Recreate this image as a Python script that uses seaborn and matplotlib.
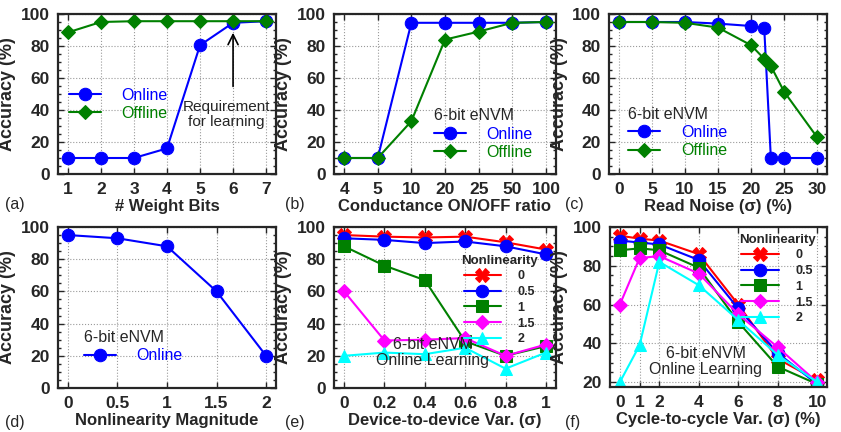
import numpy as np
import pandas as pd
import seaborn as sns
import matplotlib.pyplot as plt
from matplotlib.ticker import MultipleLocator

# (a) weight bits
bits = [1, 2, 3, 4, 5, 6, 7]
bits_online = [10, 10, 10, 16, 80.5, 94.5, 95.5]
bits_offline = [88.5, 95, 95.5, 95.5, 95.5, 95.5, 95.5]

# (b) ON/OFF ratio (categorical axis)
onoff_labels = ['4', '5', '10', '20', '25', '50', '100']
onoff_online = [10, 10, 94.5, 94.5, 94.5, 94.5, 95]
onoff_offline = [10, 10, 33, 84, 89, 94.5, 95]

# (c) read noise
noise = [0, 5, 10, 15, 20, 22, 23, 25, 30]
noise_online = [95, 95, 95, 94, 92.5, 91, 10, 10, 10]
noise_offline = [95, 95, 94.5, 91.5, 80.5, 72, 67.5, 51.5, 23]

# (d) nonlinearity
nl = [0, 0.5, 1, 1.5, 2]
nl_labels = ['0', '0.5', '1', '1.5', '2']
nl_online = [95, 93, 88, 60, 20]

# (e) device-to-device variation
d2d = [0, 0.2, 0.4, 0.6, 0.8, 1]
d2d_labels = ['0', '0.2', '0.4', '0.6', '0.8', '1']
d2d_acc = {
    '0':   [95, 94, 93.5, 94, 90.5, 86],
    '0.5': [93, 92, 90, 91, 88, 83],
    '1':   [88, 76, 67, 29, 20, 26],
    '1.5': [60, 29.5, 30, 31, 20, 27],
    '2':   [20, 22, 21, 25, 12, 22],
}

# (f) cycle-to-cycle variation
c2c = [0, 1, 2, 4, 6, 8, 10]
c2c_acc = {
    '0':   [95.5, 94, 93, 86, 60, 32, 21],
    '0.5': [93, 92, 91, 83, 58, 35, 19],
    '1':   [88, 89, 88, 79, 51, 28, 19],
    '1.5': [60, 84, 85, 76, 55, 38, 20],
    '2':   [20, 39, 82, 70, 52, 34, 20],
}

nl_levels = ['0', '0.5', '1', '1.5', '2']
nl_colors = {'0': '#ff0000', '0.5': '#0000ff', '1': '#008000', '1.5': '#ff00ff', '2': '#00ffff'}
nl_markers = {'0': 'X', '0.5': 'o', '1': 's', '1.5': 'D', '2': '^'}
nl_sizes = {'0': 10, '0.5': 9, '1': 9, '1.5': 7, '2': 8}

BLUE = '#0000ff'
GREEN = '#008000'

sns.set_style('ticks')
plt.rcParams['font.family'] = ['Liberation Sans', 'DejaVu Sans']
plt.rcParams['font.weight'] = 'bold'
plt.rcParams['axes.linewidth'] = 1.6

fig = plt.figure(figsize=(8.41, 4.32), dpi=100)
W, H = 841, 432


def make_ax(l, t, r, b):
    return fig.add_axes([l / W, 1 - b / H, (r - l) / W, (b - t) / H])


def style_ax(ax, ylim=(0, 100), yticks=range(0, 101, 20)):
    ax.set_ylim(*ylim)
    ax.set_yticks(list(yticks))
    ax.yaxis.set_minor_locator(MultipleLocator(5))
    ax.grid(True, which='major', linestyle=':', linewidth=0.8, color='#9a9a9a')
    ax.tick_params(which='both', direction='in', top=True, right=True)
    ax.tick_params(which='major', length=4, width=1, labelsize=12.5, pad=6)
    ax.tick_params(which='minor', length=2.5, width=1)
    ax.set_ylabel('Accuracy (%)', fontsize=13, fontweight='bold', labelpad=3)


def bold_ticks(ax):
    for lab in ax.get_xticklabels() + ax.get_yticklabels():
        lab.set_fontweight('bold')


def two_line(ax, x, y1, y2):
    sns.lineplot(x=x, y=y1, ax=ax, color=BLUE, marker='o', markersize=9,
                 markeredgecolor=BLUE, linewidth=1.5, label='Online')
    if y2 is not None:
        sns.lineplot(x=x, y=y2, ax=ax, color=GREEN, marker='D', markersize=7,
                     markeredgecolor=GREEN, linewidth=1.5, label='Offline')


def two_legend(ax, anchor, title=None):
    leg = ax.legend(loc='upper left', bbox_to_anchor=anchor, frameon=False,
                    prop={'size': 11.5, 'weight': 'normal'}, handlelength=2.0,
                    handletextpad=1.3, labelspacing=0.2, title=title,
                    title_fontproperties={'size': 11.5, 'weight': 'normal'},
                    alignment='left', labelcolor='linecolor', borderaxespad=0)
    return leg


def multi_plot(ax, x, acc, anchor):
    df = pd.DataFrame([(xv, k, v) for k in nl_levels for xv, v in zip(x, acc[k])],
                      columns=['x', 'NL', 'acc'])
    for k in nl_levels:
        sub = df[df['NL'] == k]
        sns.lineplot(data=sub, x='x', y='acc', ax=ax, color=nl_colors[k],
                     marker=nl_markers[k], markersize=nl_sizes[k],
                     markeredgecolor=nl_colors[k], linewidth=1.5, label=k)
    leg = ax.legend(loc='upper right', frameon=False,
                    prop={'size': 9, 'weight': 'bold'},
                    handlelength=3, handletextpad=1.3, labelspacing=0.3,
                    title='Nonlinearity',
                    title_fontproperties={'size': 9.5, 'weight': 'bold'},
                    bbox_to_anchor=anchor, borderaxespad=0)
    return leg


# ---- (a)
ax = make_ax(58, 14, 276, 174)
two_line(ax, bits, bits_online, bits_offline)
style_ax(ax)
ax.set_xlim(0.7, 7.3)
ax.set_xticks(bits)
ax.set_xlabel('# Weight Bits', fontsize=12, fontweight='bold', labelpad=1)
two_legend(ax, (0.02, 0.58))
ax.annotate('', xy=(6, 90), xytext=(6, 53),
            arrowprops=dict(arrowstyle='->', color='black', lw=1.2, mutation_scale=18))
ax.text(5.8, 37, 'Requirement\nfor learning', ha='center', va='center',
        fontsize=11, fontweight='normal', linespacing=1.1)
bold_ticks(ax)

# ---- (b)
ax = make_ax(334, 14, 556, 174)
pos = list(range(len(onoff_labels)))
two_line(ax, pos, onoff_online, onoff_offline)
style_ax(ax)
ax.set_xlim(-0.3, 6.3)
ax.set_xticks(pos)
ax.set_xticklabels(onoff_labels)
ax.set_xlabel('Conductance ON/OFF ratio', fontsize=12, fontweight='bold', labelpad=1)
two_legend(ax, (0.42, 0.45), title='6-bit eNVM')
bold_ticks(ax)

# ---- (c)
ax = make_ax(609, 14, 827, 174)
two_line(ax, noise, noise_online, noise_offline)
style_ax(ax)
ax.set_xlim(-1.5, 31.5)
ax.set_xticks([0, 5, 10, 15, 20, 25, 30])
ax.set_xlabel('Read Noise (σ) (%)', fontsize=12, fontweight='bold', labelpad=1)
two_legend(ax, (0.06, 0.46), title='6-bit eNVM')
bold_ticks(ax)

# ---- (d)
ax = make_ax(58, 227, 276, 388)
two_line(ax, nl, nl_online, None)
style_ax(ax)
ax.set_xlim(-0.1, 2.1)
ax.set_xticks(nl)
ax.set_xticklabels(nl_labels)
ax.set_xlabel('Nonlinearity Magnitude', fontsize=12, fontweight='bold', labelpad=1)
two_legend(ax, (0.09, 0.40), title='6-bit eNVM')
bold_ticks(ax)

# ---- (e)
ax = make_ax(334, 227, 556, 388)
multi_plot(ax, d2d, d2d_acc, (0.94, 0.86))
style_ax(ax)
ax.set_xlim(-0.05, 1.05)
ax.set_xticks(d2d)
ax.set_xticklabels(d2d_labels)
ax.set_xlabel('Device-to-device Var. (σ)', fontsize=12, fontweight='bold', labelpad=1)
ax.text(0.44, 22, '6-bit eNVM\nOnline Learning', ha='center', va='center',
        fontsize=11.5, fontweight='normal', linespacing=1.1)
bold_ticks(ax)

# ---- (f)
ax = make_ax(610, 227, 827, 387)
multi_plot(ax, c2c, c2c_acc, (0.97, 0.99))
style_ax(ax, ylim=(17.5, 100), yticks=range(20, 101, 20))
ax.set_xlim(-0.5, 10.5)
ax.set_xticks(c2c)
ax.set_xlabel('Cycle-to-cycle Var. (σ) (%)', fontsize=12, fontweight='bold', labelpad=1)
ax.text(4.35, 30.5, '6-bit eNVM\nOnline Learning', ha='center', va='center',
        fontsize=11.5, fontweight='normal', linespacing=1.1)
bold_ticks(ax)

# panel labels
for lbl, x, y in [('(a)', 5, 204), ('(b)', 285, 204), ('(c)', 565, 204),
                  ('(d)', 5, 423), ('(e)', 285, 423), ('(f)', 565, 423)]:
    fig.text(x / W, 1 - y / H, lbl, fontsize=11.5, fontweight='normal',
             va='center', ha='left')

fig.savefig('out.png', dpi=100)
